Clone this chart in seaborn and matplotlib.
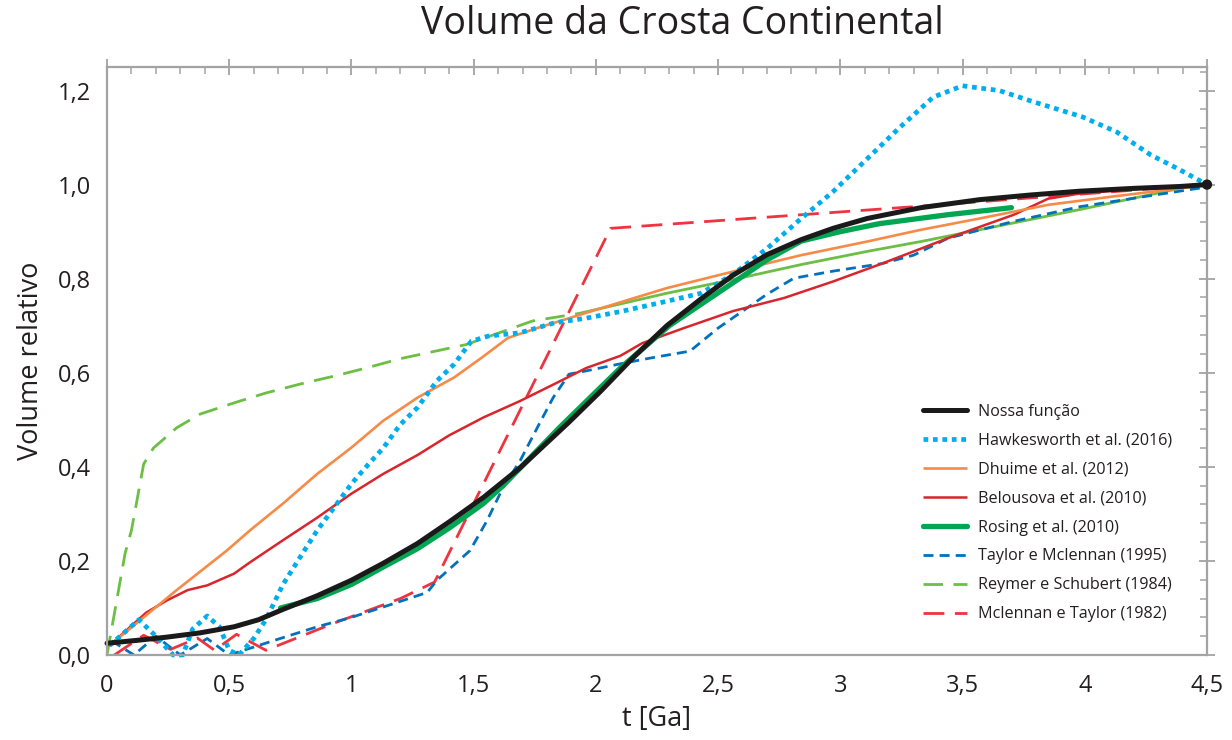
import numpy as np
import pandas as pd
import matplotlib
matplotlib.use("Agg")
import matplotlib.pyplot as plt
from matplotlib.ticker import MultipleLocator, FuncFormatter
from matplotlib.lines import Line2D
import seaborn as sns

# --- crustal volume curves (t in Ga, relative volume) ---
nossa_t = [0.0, 0.12, 0.245, 0.38, 0.52, 0.62, 0.72, 0.86, 1.0, 1.13, 1.27, 1.4, 1.54, 1.69,
           1.89, 2.02, 2.15, 2.29, 2.43, 2.56, 2.7, 2.84, 2.97, 3.11, 3.33, 3.57, 3.78, 3.98,
           4.2, 4.39, 4.5]
nossa_v = [0.025, 0.031, 0.038, 0.047, 0.06, 0.075, 0.097, 0.126, 0.159, 0.195, 0.237, 0.283,
           0.335, 0.398, 0.495, 0.561, 0.631, 0.7, 0.757, 0.807, 0.851, 0.883, 0.907, 0.928,
           0.951, 0.968, 0.978, 0.986, 0.992, 0.996, 1.0]

hawk_t = [0.01, 0.13, 0.2, 0.27, 0.31, 0.35, 0.41, 0.46, 0.5, 0.54, 0.6, 0.65, 0.72, 0.79, 0.86,
          0.93, 1.0, 1.06, 1.13, 1.2, 1.27, 1.35, 1.42, 1.49, 1.56, 1.69, 1.83, 1.96, 2.1, 2.29,
          2.43, 2.56, 2.7, 2.84, 2.97, 3.1, 3.24, 3.38, 3.5, 3.65, 3.79, 3.99, 4.13, 4.27, 4.38, 4.5]
hawk_v = [0.02, 0.075, 0.04, 0.0, 0.0, 0.055, 0.083, 0.06, 0.01, 0.0, 0.035, 0.075, 0.15, 0.208,
          0.265, 0.314, 0.364, 0.4, 0.44, 0.49, 0.526, 0.583, 0.618, 0.667, 0.678, 0.685, 0.706,
          0.716, 0.73, 0.752, 0.769, 0.809, 0.864, 0.928, 0.985, 1.05, 1.12, 1.186, 1.21, 1.2,
          1.176, 1.144, 1.112, 1.063, 1.034, 1.0]

dhuime_t = [0.01, 0.285, 0.49, 0.585, 0.72, 0.86, 1.0, 1.13, 1.27, 1.42, 1.53, 1.64, 1.76, 1.89,
            2.02, 2.29, 2.56, 2.84, 3.11, 3.33, 3.57, 3.85, 4.12, 4.39, 4.5]
dhuime_v = [0.02, 0.138, 0.222, 0.265, 0.322, 0.385, 0.441, 0.498, 0.547, 0.59, 0.631, 0.674,
            0.695, 0.716, 0.737, 0.78, 0.815, 0.85, 0.879, 0.904, 0.928, 0.957, 0.975, 0.992, 1.0]

belou_t = [0.01, 0.16, 0.245, 0.33, 0.41, 0.52, 0.585, 0.72, 0.86, 1.0, 1.13, 1.27, 1.4, 1.54,
           1.69, 1.83, 1.96, 2.1, 2.19, 2.36, 2.56, 2.77, 2.97, 3.17, 3.44, 3.71, 3.85, 3.98,
           4.25, 4.5]
belou_v = [0.02, 0.09, 0.116, 0.138, 0.148, 0.173, 0.197, 0.244, 0.292, 0.343, 0.385, 0.425,
           0.467, 0.505, 0.54, 0.576, 0.61, 0.636, 0.663, 0.695, 0.731, 0.759, 0.794, 0.832,
           0.886, 0.936, 0.97, 0.981, 0.992, 1.0]

rosing_t = [0.71, 0.86, 1.0, 1.13, 1.27, 1.4, 1.54, 1.62, 1.85, 2.1, 2.3, 2.5, 2.7, 2.84, 3.0,
            3.16, 3.44, 3.7]
rosing_v = [0.1, 0.12, 0.15, 0.187, 0.226, 0.27, 0.322, 0.36, 0.483, 0.61, 0.7, 0.77, 0.84,
            0.88, 0.9, 0.917, 0.936, 0.951]

taylor95_t = [0.02, 0.11, 0.2, 0.3, 0.41, 0.5, 0.69, 0.86, 1.0, 1.13, 1.31, 1.35, 1.485, 1.555,
              1.62, 1.69, 1.76, 1.825, 1.89, 1.96, 2.1, 2.22, 2.385, 2.5, 2.7, 2.81, 2.97, 3.17,
              3.3, 3.44, 3.71, 3.98, 4.25, 4.5]
taylor95_v = [0.03, 0.0, 0.04, 0.0, 0.035, 0.0, 0.032, 0.06, 0.08, 0.102, 0.133, 0.159, 0.222,
              0.286, 0.356, 0.413, 0.483, 0.547, 0.597, 0.604, 0.619, 0.631, 0.646, 0.695, 0.767,
              0.801, 0.816, 0.832, 0.85, 0.886, 0.922, 0.953, 0.975, 0.995]

reymer_t = [0.0, 0.074, 0.1, 0.15, 0.19, 0.285, 0.38, 0.52, 0.65, 0.79, 0.93, 1.06, 1.2, 1.47,
            1.74, 1.93, 2.29, 2.56, 2.84, 3.11, 3.33, 3.57, 3.98, 4.39, 4.5]
reymer_v = [0.0, 0.216, 0.265, 0.406, 0.44, 0.483, 0.512, 0.536, 0.557, 0.576, 0.593, 0.61, 0.63,
            0.66, 0.71, 0.726, 0.769, 0.798, 0.83, 0.858, 0.879, 0.904, 0.947, 0.992, 1.0]
reymer_dashed_until = 15  # index where the curve turns solid

mcl82_t = [0.03, 0.15, 0.26, 0.37, 0.44, 0.53, 0.65, 0.93, 1.2, 1.34, 2.06, 3.3, 4.5]
mcl82_v = [0.0, 0.042, 0.012, 0.036, 0.01, 0.044, 0.01, 0.068, 0.12, 0.155, 0.907, 0.953, 1.0]

labels = ["Nossa função", "Hawkesworth et al. (2016)", "Dhuime et al. (2012)",
          "Belousova et al. (2010)", "Rosing et al. (2010)", "Taylor e Mclennan (1995)",
          "Reymer e Schubert (1984)", "Mclennan e Taylor (1982)"]

x_ticks_major, x_ticks_minor = 0.5, 0.1
y_ticks_major, y_ticks_minor = 0.2, 0.04

sns.set_theme(style="white")
plt.rcParams["font.family"] = ["Open Sans", "DejaVu Sans"]

fig = plt.figure(figsize=(12.32, 7.4), dpi=100)
ax = fig.add_axes([107 / 1232, 85 / 740, 1100 / 1232, 588 / 740])

styles = {
    "nossa": dict(color="#1a1a1a", lw=3.6, ls="-", solid_capstyle="round"),
    "hawk": dict(color="#00AEEF", lw=3.4, ls=(0, (1.0, 1.0)), dash_capstyle="butt"),
    "dhuime": dict(color="#F68B48", lw=1.9, ls="-"),
    "belou": dict(color="#D9252B", lw=1.8, ls="-"),
    "rosing": dict(color="#00A651", lw=3.8, ls="-", solid_capstyle="round"),
    "taylor95": dict(color="#0072BC", lw=2.0, ls=(0, (3.6, 2.2)), dash_capstyle="butt"),
    "reymer": dict(color="#6CBE45", lw=2.0, ls=(0, (7.0, 3.8)), dash_capstyle="butt"),
    "mcl82": dict(color="#EF3340", lw=2.0, ls=(0, (7.5, 3.8)), dash_capstyle="butt"),
}


def draw(t, v, key, **extra):
    st = dict(styles[key])
    st.update(extra)
    df = pd.DataFrame({"t": t, "v": v})
    sns.lineplot(data=df, x="t", y="v", ax=ax, estimator=None, sort=False,
                 color=st.pop("color"), linewidth=st.pop("lw"), linestyle=st.pop("ls"),
                 clip_on=False, **st)


k = reymer_dashed_until
draw(reymer_t[:k + 1], reymer_v[:k + 1], "reymer")
draw(reymer_t[k:], reymer_v[k:], "reymer", ls="-")
draw(mcl82_t, mcl82_v, "mcl82")
draw(taylor95_t, taylor95_v, "taylor95")
draw(belou_t, belou_v, "belou")
draw(dhuime_t, dhuime_v, "dhuime")
draw(rosing_t, rosing_v, "rosing")
draw(hawk_t, hawk_v, "hawk")
draw(nossa_t, nossa_v, "nossa")

# end point of the model curve
sns.scatterplot(x=[nossa_t[-1]], y=[nossa_v[-1]], ax=ax, color="#1a1a1a", s=55,
                edgecolor="none", zorder=10, clip_on=False)

ax.set_xlim(0, 4.5)
ax.set_ylim(0, 1.25)

frame_col = "#A3A3A3"
for sp in ax.spines.values():
    sp.set_visible(True)
    sp.set_color(frame_col)
    sp.set_linewidth(1.6)

ax.xaxis.set_major_locator(MultipleLocator(x_ticks_major))
ax.xaxis.set_minor_locator(MultipleLocator(x_ticks_minor))
ax.yaxis.set_major_locator(MultipleLocator(y_ticks_major))
ax.yaxis.set_minor_locator(MultipleLocator(y_ticks_minor))
ax.xaxis.set_major_formatter(FuncFormatter(lambda x, p: ("%g" % x).replace(".", ",")))
ax.yaxis.set_major_formatter(FuncFormatter(lambda y, p: ("%.1f" % y).replace(".", ",")))

ax.tick_params(which="major", direction="inout", length=11, width=1.3, color=frame_col,
               top=True, right=True, labelsize=17, labelcolor="#231f20")
ax.tick_params(which="minor", direction="in", length=5, width=1.1, color=frame_col,
               top=True, right=True)
ax.tick_params(axis="x", which="major", pad=8)
ax.tick_params(axis="y", which="major", pad=6)

ax.set_xlabel("t [Ga]", fontsize=19.5, color="#231f20", labelpad=5)
ax.set_ylabel("Volume relativo", fontsize=19.5, color="#231f20", labelpad=9)

fig.text(682 / 1232, 1 - 24 / 740, "Volume da Crosta Continental",
         family=["Open Sans", "DejaVu Sans"],
         fontsize=27, color="#231f20", ha="center", va="center")

order = ["nossa", "hawk", "dhuime", "belou", "rosing", "taylor95", "reymer", "mcl82"]
handles = []
for key in order:
    st = styles[key]
    handles.append(Line2D([], [], color=st["color"], lw=st["lw"], ls=st["ls"],
                          solid_capstyle="round" if key in ("nossa", "rosing") else "butt",
                          dash_capstyle="butt"))
ax.legend(handles, labels, loc="upper left", bbox_to_anchor=(923 / 1232, 1 - 404 / 740),
          bbox_transform=fig.transFigure, frameon=False, fontsize=11.6,
          handlelength=2.7, handletextpad=0.7, labelspacing=0.8, borderpad=0,
          borderaxespad=0, labelcolor="#231f20")

fig.savefig("out.png", dpi=100, facecolor="white")
